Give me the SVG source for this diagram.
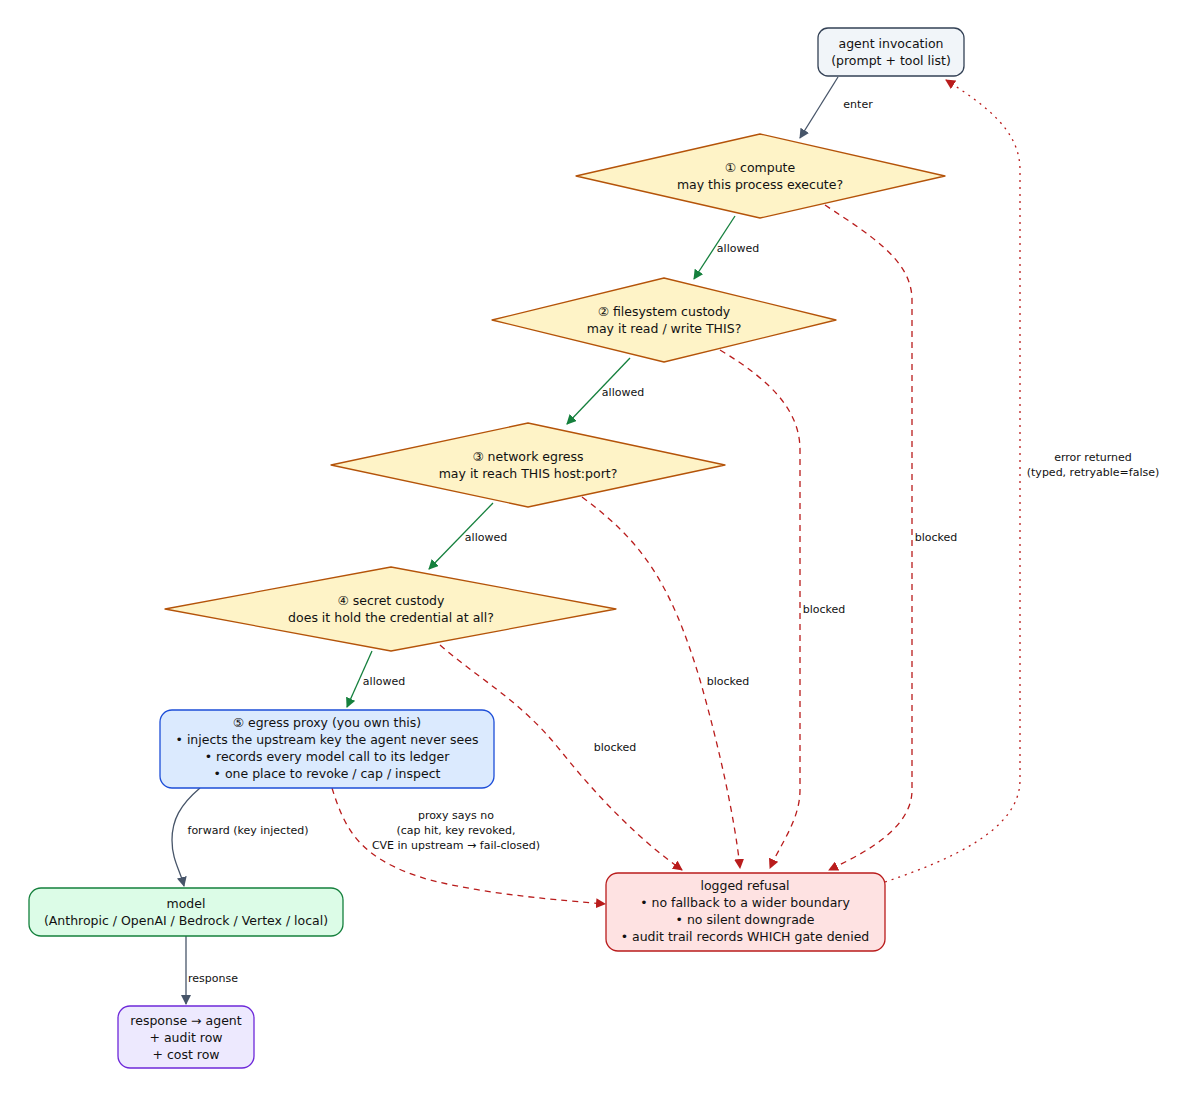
<svg xmlns="http://www.w3.org/2000/svg" width="1193" height="1097" viewBox="0 0 1193 1097">
<style>
text{font-family:"DejaVu Sans",sans-serif;fill:#111;text-anchor:middle}
.n{font-size:12.5px}
.l{font-size:11px}
.e{fill:none;stroke-width:1.3}
.g{stroke:#15803d}
.s{stroke:#475569}
.r{stroke:#b91c1c;stroke-dasharray:6,5}
.d{stroke:#b91c1c;stroke-dasharray:2,5}
.dia{fill:#fef3c7;stroke:#b45309;stroke-width:1.3;stroke-linejoin:round}
</style>
<defs>
<marker id="ag" viewBox="0 0 10 10" refX="9" refY="5" markerWidth="10" markerHeight="10" markerUnits="userSpaceOnUse" orient="auto"><path d="M0,0L10,5L0,10z" fill="#15803d"/></marker>
<marker id="as" viewBox="0 0 10 10" refX="9" refY="5" markerWidth="10" markerHeight="10" markerUnits="userSpaceOnUse" orient="auto"><path d="M0,0L10,5L0,10z" fill="#475569"/></marker>
<marker id="ar" viewBox="0 0 10 10" refX="9" refY="5" markerWidth="10" markerHeight="10" markerUnits="userSpaceOnUse" orient="auto"><path d="M0,0L10,5L0,10z" fill="#b91c1c"/></marker>
</defs>
<rect width="1193" height="1097" fill="#fff"/>
<g id="connectors">
<path class="e s" d="M838,77L800,138" marker-end="url(#as)"/>
<text class="l" x="858" y="108">enter</text>
<path class="e g" d="M735,216L694,279" marker-end="url(#ag)"/>
<text class="l" x="738" y="252">allowed</text>
<path class="e g" d="M630,358L567,424" marker-end="url(#ag)"/>
<text class="l" x="623" y="396">allowed</text>
<path class="e g" d="M493,503L429,569" marker-end="url(#ag)"/>
<text class="l" x="486" y="541">allowed</text>
<path class="e g" d="M372,651L347,707" marker-end="url(#ag)"/>
<text class="l" x="384" y="685">allowed</text>
<path class="e r" d="M825,205C870,235 912,260 912,300L912,790C912,830 860,855 829,870" marker-end="url(#ar)"/>
<text class="l" x="936" y="541">blocked</text>
<path class="e r" d="M720,350C770,380 800,410 800,450L800,790C800,820 780,845 770,868" marker-end="url(#ar)"/>
<text class="l" x="824" y="613">blocked</text>
<path class="e r" d="M582,497C640,540 670,580 700,680C720,750 735,820 740,868" marker-end="url(#ar)"/>
<text class="l" x="728" y="685">blocked</text>
<path class="e r" d="M440,645C480,680 520,700 560,750C600,800 640,840 682,870" marker-end="url(#ar)"/>
<text class="l" x="615" y="751">blocked</text>
<path class="e r" d="M332,788C345,830 360,860 430,880C490,895 560,900 605,904" marker-end="url(#ar)"/>
<text class="l" x="456" y="819">proxy says no</text>
<text class="l" x="456" y="834">(cap hit, key revoked,</text>
<text class="l" x="456" y="849">CVE in upstream → fail-closed)</text>
<path class="e s" d="M200,788C180,805 172,820 172,840C172,860 180,870 184,886" marker-end="url(#as)"/>
<text class="l" x="248" y="834">forward (key injected)</text>
<path class="e s" d="M186,936L186,1004" marker-end="url(#as)"/>
<text class="l" x="213" y="982">response</text>
<path class="e d" d="M885,882C950,860 1020,830 1020,780L1020,170C1020,130 985,105 946,80" marker-end="url(#ar)"/>
<text class="l" x="1093" y="461">error returned</text>
<text class="l" x="1093" y="476">(typed, retryable=false)</text>
</g>
<g id="agent"><rect x="818" y="28" width="146" height="48" rx="10" fill="#f1f5f9" stroke="#334155" stroke-width="1.3"/>
<text class="n" x="891" y="48">agent invocation</text><text class="n" x="891" y="65">(prompt + tool list)</text></g>
<g id="gate1"><polygon class="dia" points="760,134 945,176 760,218 576,176"/>
<text class="n" x="760" y="172">① compute</text><text class="n" x="760" y="189">may this process execute?</text></g>
<g id="gate2"><polygon class="dia" points="664,278 836,320 664,362 492,320"/>
<text class="n" x="664" y="316">② filesystem custody</text><text class="n" x="664" y="333">may it read / write THIS?</text></g>
<g id="gate3"><polygon class="dia" points="528,423 725,465 528,507 331,465"/>
<text class="n" x="528" y="461">③ network egress</text><text class="n" x="528" y="478">may it reach THIS host:port?</text></g>
<g id="gate4"><polygon class="dia" points="391,567 616,609 391,651 165,609"/>
<text class="n" x="391" y="605">④ secret custody</text><text class="n" x="391" y="622">does it hold the credential at all?</text></g>
<g id="proxy"><rect x="160" y="710" width="334" height="78" rx="12" fill="#dbeafe" stroke="#1d4ed8" stroke-width="1.3"/>
<text class="n" x="327" y="727">⑤ egress proxy (you own this)</text>
<text class="n" x="327" y="744">• injects the upstream key the agent never sees</text>
<text class="n" x="327" y="761">• records every model call to its ledger</text>
<text class="n" x="327" y="778">• one place to revoke / cap / inspect</text></g>
<g id="model"><rect x="29" y="888" width="314" height="48" rx="12" fill="#dcfce7" stroke="#15803d" stroke-width="1.3"/>
<text class="n" x="186" y="908">model</text><text class="n" x="186" y="925">(Anthropic / OpenAI / Bedrock / Vertex / local)</text></g>
<g id="response"><rect x="118" y="1006" width="136" height="62" rx="12" fill="#ede9fe" stroke="#6d28d9" stroke-width="1.3"/>
<text class="n" x="186" y="1025">response → agent</text><text class="n" x="186" y="1042">+ audit row</text><text class="n" x="186" y="1059">+ cost row</text></g>
<g id="refusal"><rect x="606" y="873" width="279" height="78" rx="12" fill="#fee2e2" stroke="#b91c1c" stroke-width="1.3"/>
<text class="n" x="745" y="890">logged refusal</text>
<text class="n" x="745" y="907">• no fallback to a wider boundary</text>
<text class="n" x="745" y="924">• no silent downgrade</text>
<text class="n" x="745" y="941">• audit trail records WHICH gate denied</text></g>
</svg>
